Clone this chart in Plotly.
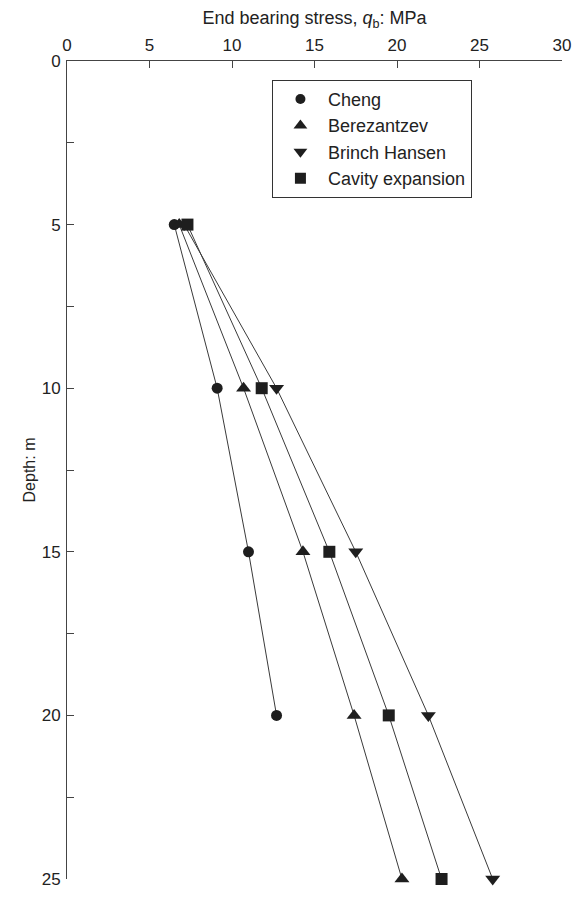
import plotly.graph_objects as go

depth = [5, 10, 15, 20, 25]
cheng_depth = [5, 10, 15, 20]
cheng = [6.5, 9.1, 11.0, 12.7]
berezantzev = [6.8, 10.7, 14.3, 17.4, 20.3]
brinch_hansen = [7.1, 12.7, 17.5, 21.9, 25.8]
cavity_expansion = [7.3, 11.8, 15.9, 19.5, 22.7]

x_ticks = [0, 5, 10, 15, 20, 25, 30]
y_ticks = [0, 5, 10, 15, 20, 25]

series = [
    ("Cheng", cheng, cheng_depth, "circle", 11),
    ("Berezantzev", berezantzev, depth, "triangle-up", 13),
    ("Brinch Hansen", brinch_hansen, depth, "triangle-down", 13),
    ("Cavity expansion", cavity_expansion, depth, "square", 12),
]

MARK = "#1e1e1e"
LINE = "#3a3a3a"
FONT = "Liberation Sans, Arial, sans-serif"

fig = go.Figure()
for name, xs, ys, sym, sz in series:
    fig.add_trace(go.Scatter(
        x=xs, y=ys, mode="lines+markers", name=name, showlegend=False,
        line=dict(color=LINE, width=1),
        marker=dict(symbol=sym, size=sz, color=MARK, line=dict(width=0)),
        cliponaxis=False,
    ))
for name, xs, ys, sym, sz in series:
    fig.add_trace(go.Scatter(
        x=[None], y=[None], mode="markers", name=name, showlegend=True,
        marker=dict(symbol=sym, size=sz - 1, color=MARK, line=dict(width=0)),
    ))

fig.update_layout(
    width=573, height=891,
    margin=dict(l=59, r=12, t=50, b=10),
    paper_bgcolor="white", plot_bgcolor="white",
    font=dict(family=FONT, size=17, color="#222"),
    legend=dict(
        x=0.414, y=0.977, xanchor="left", yanchor="top",
        bordercolor="#333", borderwidth=1, bgcolor="white",
        font=dict(size=18), itemwidth=45,
    ),
    xaxis=dict(
        side="top", range=[0, 30], tickvals=x_ticks,
        ticks="inside", ticklen=7, tickcolor="#444", tickwidth=1,
        showline=True, linecolor="#444", linewidth=1, mirror=False,
        showgrid=False, zeroline=False, ticklabelstandoff=2,
        title=dict(text="End bearing stress, <i>q</i><sub>b</sub>: MPa", standoff=6, font=dict(size=18)),
    ),
    yaxis=dict(
        range=[25, 0], tickvals=y_ticks,
        ticks="inside", ticklen=7, tickcolor="#444", tickwidth=1,
        minor=dict(dtick=2.5, ticks="inside", ticklen=7, tickcolor="#444", showgrid=False),
        showline=True, linecolor="#444", linewidth=1, mirror=False,
        showgrid=False, zeroline=False, ticklabelstandoff=2,
        title=dict(text="Depth: m", standoff=2, font=dict(size=16)),
    ),
)

fig.write_html("out.html")
